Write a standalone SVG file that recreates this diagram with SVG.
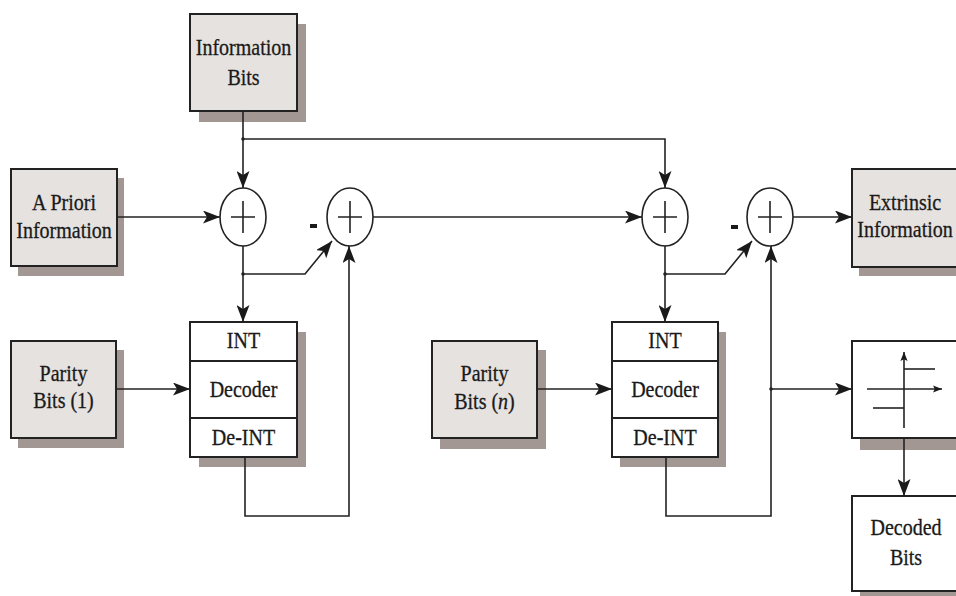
<svg xmlns="http://www.w3.org/2000/svg" width="956" height="596" viewBox="0 0 956 596">
<style>
.sh{fill:#a39794;}
.gb{fill:#e6e2df;stroke:#222;stroke-width:2;}
.wb{fill:#fff;stroke:#222;stroke-width:2;}
.ln{fill:none;stroke:#222;stroke-width:1.6;}
.sum{fill:#fff;stroke:#222;stroke-width:1.6;}
.t{font-family:"Liberation Serif","Times New Roman",serif;font-size:23px;fill:#1a1a1a;stroke:#1a1a1a;stroke-width:0.3;text-anchor:middle;}
.m{font-family:"Liberation Sans",Arial,sans-serif;font-size:26px;font-weight:bold;fill:#1a1a1a;text-anchor:middle;}
</style>
<defs>
<marker id="ah" viewBox="0 0 17 13" refX="17" refY="6.5" markerWidth="17" markerHeight="13" markerUnits="userSpaceOnUse" orient="auto">
<path d="M0,0 L17,6.5 L0,13 L4,6.5 Z" fill="#1a1a1a"/>
</marker>
<marker id="sa" viewBox="0 0 10 8" refX="10" refY="4" markerWidth="9" markerHeight="8" markerUnits="userSpaceOnUse" orient="auto">
<path d="M0,0 L10,4 L0,8 L2,4 Z" fill="#1a1a1a"/>
</marker>
</defs>

<g id="info-bits">
<rect class="sh" x="199" y="24" width="107" height="98"/>
<rect class="gb" x="190" y="14" width="107" height="97"/>
<text class="t" transform="translate(243.5 55) scale(0.87 1)">Information</text>
<text class="t" transform="translate(243.5 85) scale(0.87 1)">Bits</text>
</g>

<g id="a-priori">
<rect class="sh" x="18" y="178" width="106" height="98"/>
<rect class="gb" x="11" y="169" width="106" height="97"/>
<text class="t" transform="translate(64 210) scale(0.87 1)">A Priori</text>
<text class="t" transform="translate(64 238) scale(0.87 1)">Information</text>
</g>

<g id="parity-1">
<rect class="sh" x="18" y="350" width="106" height="98"/>
<rect class="gb" x="11" y="341" width="105" height="97"/>
<text class="t" transform="translate(63.5 381) scale(0.87 1)">Parity</text>
<text class="t" transform="translate(63.5 408) scale(0.87 1)">Bits (1)</text>
</g>

<g id="parity-n">
<rect class="sh" x="440" y="350" width="106" height="99"/>
<rect class="gb" x="432" y="341" width="105" height="97"/>
<text class="t" transform="translate(484.5 381) scale(0.87 1)">Parity</text>
<text class="t" transform="translate(484.5 409) scale(0.87 1)">Bits (<tspan font-style="italic">n</tspan>)</text>
</g>

<g id="extrinsic">
<rect class="sh" x="859" y="178" width="107" height="98"/>
<rect class="gb" x="852" y="169" width="107" height="98"/>
<text class="t" transform="translate(905 210) scale(0.87 1)">Extrinsic</text>
<text class="t" transform="translate(905 237) scale(0.87 1)">Information</text>
</g>

<g id="decoder-1">
<rect class="sh" x="199" y="332" width="107" height="135"/>
<rect class="wb" x="190" y="322" width="107" height="135"/>
<line class="ln" x1="190" y1="361" x2="297" y2="361" style="stroke-width:2"/>
<line class="ln" x1="190" y1="418" x2="297" y2="418" style="stroke-width:2"/>
<text class="t" transform="translate(243.5 348) scale(0.87 1)">INT</text>
<text class="t" transform="translate(243.5 397) scale(0.87 1)">Decoder</text>
<text class="t" transform="translate(243.5 445) scale(0.87 1)">De-INT</text>
</g>

<g id="decoder-n">
<rect class="sh" x="620" y="332" width="106" height="135"/>
<rect class="wb" x="612" y="322" width="106" height="135"/>
<line class="ln" x1="612" y1="361" x2="718" y2="361" style="stroke-width:2"/>
<line class="ln" x1="612" y1="418" x2="718" y2="418" style="stroke-width:2"/>
<text class="t" transform="translate(665 348) scale(0.87 1)">INT</text>
<text class="t" transform="translate(665 397) scale(0.87 1)">Decoder</text>
<text class="t" transform="translate(665 445) scale(0.87 1)">De-INT</text>
</g>

<g id="hard-decision">
<rect class="sh" x="860" y="350" width="106" height="100"/>
<rect class="wb" x="852" y="341" width="107" height="97"/>
<line class="ln" x1="904" y1="428" x2="904" y2="352" marker-end="url(#sa)"/>
<line class="ln" x1="867" y1="389" x2="942" y2="389" marker-end="url(#sa)"/>
<line class="ln" x1="904" y1="369" x2="935" y2="369"/>
<line class="ln" x1="873" y1="408" x2="904" y2="408"/>
</g>

<g id="decoded-bits">
<rect class="sh" x="860" y="505" width="106" height="95"/>
<rect class="wb" x="852" y="496" width="107" height="95"/>
<text class="t" transform="translate(906 535) scale(0.87 1)">Decoded</text>
<text class="t" transform="translate(906 565) scale(0.87 1)">Bits</text>
</g>

<g id="sum-1">
<ellipse class="sum" cx="243" cy="217" rx="23" ry="29"/>
<path class="ln" d="M231,217 H255 M243,201 V233"/>
</g>
<g id="sum-2">
<ellipse class="sum" cx="350" cy="217" rx="23" ry="29"/>
<path class="ln" d="M338,217 H362 M350,201 V233"/>
<rect x="310" y="224" width="7" height="4" fill="#1a1a1a"/>
</g>
<g id="sum-3">
<ellipse class="sum" cx="665" cy="217" rx="23" ry="29"/>
<path class="ln" d="M653,217 H677 M665,201 V233"/>
</g>
<g id="sum-4">
<ellipse class="sum" cx="770" cy="217" rx="23" ry="29"/>
<path class="ln" d="M758,217 H782 M770,201 V233"/>
<rect x="731" y="225" width="7" height="4" fill="#1a1a1a"/>
</g>

<g id="connectors">
<line class="ln" x1="243" y1="111" x2="243" y2="188" marker-end="url(#ah)"/>
<polyline class="ln" points="243,139 665,139 665,188" marker-end="url(#ah)"/>
<line class="ln" x1="117" y1="217" x2="220" y2="217" marker-end="url(#ah)"/>
<line class="ln" x1="243" y1="246" x2="243" y2="322" marker-end="url(#ah)"/>
<polyline class="ln" points="243,274 305,274 332,241" marker-end="url(#ah)"/>
<polyline class="ln" points="245,457 245,516 349,516 349,246" marker-end="url(#ah)"/>
<line class="ln" x1="116" y1="389" x2="190" y2="389" marker-end="url(#ah)"/>
<line class="ln" x1="373" y1="217" x2="642" y2="217" marker-end="url(#ah)"/>
<line class="ln" x1="665" y1="246" x2="665" y2="322" marker-end="url(#ah)"/>
<polyline class="ln" points="665,274 725,274 752,241" marker-end="url(#ah)"/>
<polyline class="ln" points="666,457 666,516 771,516 771,246" marker-end="url(#ah)"/>
<line class="ln" x1="537" y1="389" x2="612" y2="389" marker-end="url(#ah)"/>
<line class="ln" x1="793" y1="217" x2="852" y2="217" marker-end="url(#ah)"/>
<line class="ln" x1="771" y1="389" x2="852" y2="389" marker-end="url(#ah)"/>
<line class="ln" x1="904" y1="438" x2="904" y2="496" marker-end="url(#ah)"/>
<circle cx="243" cy="139" r="1.8" fill="#222"/>
<circle cx="243" cy="274" r="1.8" fill="#222"/>
<circle cx="665" cy="274" r="1.8" fill="#222"/>
<circle cx="771" cy="389" r="1.8" fill="#222"/>
</g>
</svg>
